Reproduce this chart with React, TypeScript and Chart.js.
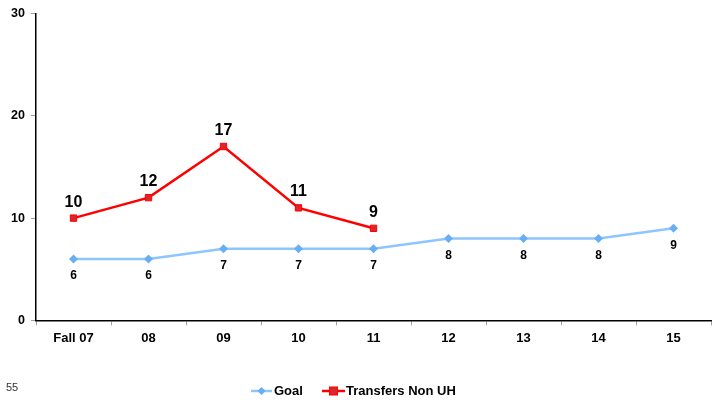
import React, { useEffect, useRef } from "react";
import { Chart, registerables } from "chart.js";

Chart.register(...registerables);

const categories = ["Fall 07", "08", "09", "10", "11", "12", "13", "14", "15"];
const goalValues = [6, 6, 7, 7, 7, 8, 8, 8, 9];
const transferValues = [10, 12, 17, 11, 9, null, null, null, null];
const yTicks = [0, 10, 20, 30];
const pageNumber = "55";

const FONT = "'Liberation Sans', Arial, sans-serif";
const GOAL_LINE = "#8EC5FF";
const GOAL_POINT = "#6AAEF2";
const RED = "#FF0000";
const RED_FILL = "#DC262C";

const labelPlugin = {
  id: "labels",
  afterDatasetsDraw(chart: any) {
    const ctx = chart.ctx;
    ctx.save();
    ctx.fillStyle = "#000";
    ctx.textAlign = "center";
    ctx.textBaseline = "middle";
    const goalMeta = chart.getDatasetMeta(0);
    ctx.font = `bold 12px ${FONT}`;
    goalMeta.data.forEach((pt: any, i: number) => {
      const v = goalValues[i];
      if (v == null) return;
      ctx.fillText(String(v), pt.x, pt.y + 17);
    });
    const trMeta = chart.getDatasetMeta(1);
    ctx.font = `bold 16px ${FONT}`;
    trMeta.data.forEach((pt: any, i: number) => {
      const v = transferValues[i];
      if (v == null) return;
      ctx.fillText(String(v), pt.x, pt.y - 16);
    });
    ctx.restore();
  },
  afterDraw(chart: any) {
    const ctx = chart.ctx;
    ctx.save();
    // page number
    ctx.font = `11px ${FONT}`;
    ctx.fillStyle = "#333";
    ctx.textAlign = "left";
    ctx.textBaseline = "middle";
    ctx.fillText(pageNumber, 6, 388);
    // custom legend
    const y = 391;
    ctx.font = `bold 13px ${FONT}`;
    ctx.textBaseline = "middle";
    // Goal
    ctx.strokeStyle = GOAL_LINE;
    ctx.lineWidth = 2.5;
    ctx.beginPath();
    ctx.moveTo(251, y);
    ctx.lineTo(272, y);
    ctx.stroke();
    ctx.fillStyle = GOAL_POINT;
    ctx.beginPath();
    ctx.moveTo(261.5, y - 4);
    ctx.lineTo(265.5, y);
    ctx.lineTo(261.5, y + 4);
    ctx.lineTo(257.5, y);
    ctx.closePath();
    ctx.fill();
    ctx.fillStyle = "#000";
    ctx.fillText(chart.data.datasets[0].label, 274, y);
    // Transfers
    ctx.strokeStyle = RED;
    ctx.lineWidth = 2.5;
    ctx.beginPath();
    ctx.moveTo(322, y);
    ctx.lineTo(345, y);
    ctx.stroke();
    ctx.fillStyle = RED_FILL;
    ctx.strokeStyle = RED;
    ctx.lineWidth = 1;
    ctx.fillRect(329.5, y - 4, 8, 8);
    ctx.strokeRect(329.5, y - 4, 8, 8);
    ctx.fillStyle = "#000";
    ctx.fillText(chart.data.datasets[1].label, 346, y);
    ctx.restore();
  },
};

export default function App() {
  const ref = useRef<HTMLCanvasElement>(null);
  useEffect(() => {
    document.body.style.margin = "0";
    const chart = new Chart(ref.current!, {
      type: "line",
      data: {
        labels: categories,
        datasets: [
          {
            label: "Goal",
            data: goalValues,
            borderColor: GOAL_LINE,
            backgroundColor: GOAL_POINT,
            borderWidth: 2.5,
            pointStyle: "rectRot",
            pointRadius: 4.5,
            pointBorderWidth: 0,
            pointBackgroundColor: GOAL_POINT,
          },
          {
            label: "Transfers Non UH",
            data: transferValues,
            borderColor: RED,
            backgroundColor: RED_FILL,
            borderWidth: 2.5,
            pointStyle: "rect",
            pointRadius: 4.5,
            pointBorderWidth: 1,
            pointBorderColor: RED,
            pointBackgroundColor: RED_FILL,
            spanGaps: false,
          },
        ],
      },
      options: {
        responsive: false,
        animation: false,
        layout: { autoPadding: false, padding: { top: 13, right: 1, bottom: 50, left: 0 } },
        plugins: {
          legend: { display: false },
          tooltip: { enabled: false },
        },
        scales: {
          x: {
            offset: true,
            afterFit(scale: any) {
              scale.paddingLeft = 0;
              scale.paddingRight = 0;
            },
            grid: {
              offset: true,
              drawOnChartArea: false,
              tickLength: 5,
              color: "#A0A0A0",
            },
            border: { color: "#000", width: 1.5 },
            ticks: {
              color: "#000",
              font: { family: FONT, size: 13, weight: "bold" },
              padding: 5,
              maxRotation: 0,
              autoSkip: false,
            },
          },
          y: {
            min: 0,
            max: 30,
            afterBuildTicks(scale: any) {
              scale.ticks = yTicks.map((v) => ({ value: v }));
            },
            afterFit(scale: any) {
              scale.width = 36;
            },
            grid: {
              drawOnChartArea: false,
              tickLength: 5,
              color: "#A0A0A0",
            },
            border: { color: "#000", width: 1.5 },
            ticks: {
              color: "#000",
              font: { family: FONT, size: 12.5, weight: "bold" },
              padding: 6,
            },
          },
        },
      },
      plugins: [labelPlugin],
    });
    return () => chart.destroy();
  }, []);
  return (
    <div style={{ position: "absolute", left: 0, top: 0, width: 712, height: 401 }}>
      <canvas ref={ref} width={712} height={401} style={{ width: 712, height: 401 }} />
    </div>
  );
}
